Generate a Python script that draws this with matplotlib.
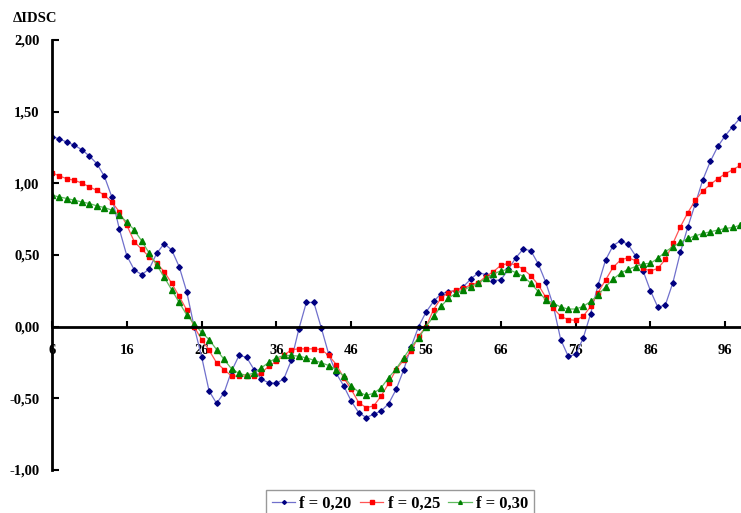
#!/usr/bin/env python3

from matplotlib import pyplot as plt

import numpy as np

plt.rcParams['font.family'] = ['Liberation Serif', 'DejaVu Serif']
plt.rcParams['font.weight'] = 'bold'

x = np.arange(6, 99)

f020 = [
    1.326, 1.310, 1.287, 1.266, 1.234, 1.190, 1.137, 1.049, 0.905, 0.681,
    0.495, 0.396, 0.363, 0.403, 0.512, 0.579, 0.535, 0.419, 0.245, 0.000,
    -0.210, -0.449, -0.535, -0.461, -0.310, -0.201, -0.213, -0.299, -0.368, -0.391,
    -0.396, -0.363, -0.234, -0.016, 0.169, 0.169, -0.009, -0.194, -0.326, -0.414,
    -0.519, -0.600, -0.634, -0.611, -0.588, -0.537, -0.438, -0.303, -0.141, 0.000,
    0.102, 0.176, 0.229, 0.245, 0.252, 0.280, 0.333, 0.377, 0.363, 0.322,
    0.326, 0.400, 0.481, 0.542, 0.530, 0.438, 0.310, 0.148, -0.090, -0.206,
    -0.194, -0.081, 0.090, 0.292, 0.465, 0.565, 0.600, 0.574, 0.495, 0.391,
    0.250, 0.134, 0.153, 0.308, 0.519, 0.697, 0.859, 1.025, 1.153, 1.257,
    1.333, 1.396, 1.456,
]
f025 = [
    1.074, 1.051, 1.032, 1.021, 1.002, 0.975, 0.951, 0.917, 0.870, 0.801,
    0.708, 0.593, 0.539, 0.488, 0.442, 0.384, 0.303, 0.211, 0.118, 0.000,
    -0.090, -0.164, -0.252, -0.299, -0.345, -0.345, -0.345, -0.345, -0.322, -0.275,
    -0.241, -0.201, -0.160, -0.155, -0.155, -0.155, -0.160, -0.201, -0.264, -0.356,
    -0.438, -0.530, -0.565, -0.553, -0.484, -0.396, -0.299, -0.234, -0.171, -0.067,
    0.000, 0.118, 0.199, 0.238, 0.257, 0.269, 0.292, 0.308, 0.350, 0.384,
    0.428, 0.442, 0.431, 0.400, 0.356, 0.292, 0.206, 0.130, 0.072, 0.049,
    0.044, 0.072, 0.141, 0.238, 0.326, 0.414, 0.465, 0.481, 0.461, 0.407,
    0.389, 0.407, 0.470, 0.581, 0.697, 0.796, 0.882, 0.947, 0.993, 1.032,
    1.067, 1.095, 1.125,
]
f030 = [
    0.917, 0.905, 0.894, 0.882, 0.870, 0.859, 0.843, 0.831, 0.813, 0.778,
    0.731, 0.674, 0.597, 0.512, 0.431, 0.345, 0.257, 0.169, 0.083, 0.020,
    -0.040, -0.090, -0.160, -0.229, -0.294, -0.326, -0.340, -0.322, -0.287, -0.248,
    -0.218, -0.201, -0.201, -0.206, -0.218, -0.234, -0.252, -0.271, -0.299, -0.345,
    -0.414, -0.456, -0.479, -0.465, -0.426, -0.356, -0.294, -0.218, -0.141, -0.079,
    0.000, 0.072, 0.141, 0.199, 0.234, 0.257, 0.280, 0.303, 0.338, 0.368,
    0.389, 0.400, 0.377, 0.350, 0.303, 0.245, 0.188, 0.164, 0.137, 0.123,
    0.123, 0.141, 0.176, 0.222, 0.278, 0.331, 0.373, 0.400, 0.419, 0.438,
    0.442, 0.477, 0.523, 0.558, 0.588, 0.616, 0.634, 0.650, 0.662, 0.674,
    0.685, 0.692, 0.708,
]

labels = ['f = 0,20', 'f = 0,25', 'f = 0,30']
x_ticks = [6, 16, 26, 36, 46, 56, 66, 76, 86, 96]
y_ticks = [-1.0, -0.5, 0.0, 0.5, 1.0, 1.5, 2.0]

fig = plt.figure(figsize=(7.41, 5.13), dpi=100)
ax = fig.add_axes([52 / 741, 1 - 470 / 513, 1 - 52 / 741, (470 - 40) / 513])

ax.plot(x, f020, color='#7070cc', linewidth=0.9, marker='D', markersize=2.8,
        markerfacecolor='#000080', markeredgecolor='#000080', label=labels[0])
ax.plot(x, f025, color='#ff5555', linewidth=0.9, marker='s', markersize=3.5,
        markerfacecolor='#ff0000', markeredgecolor='#ff0000', label=labels[1])
ax.plot(x, f030, color='#60bb60', linewidth=0.9, marker='^', markersize=3.8,
        markerfacecolor='#008000', markeredgecolor='#008000', label=labels[2])

ax.set_xlim(6, 98.1)
ax.set_ylim(-1, 2)

for side in ['top', 'right']:
    ax.spines[side].set_visible(False)
ax.spines['left'].set_linewidth(2)
ax.spines['bottom'].set_position(('data', 0))
ax.spines['bottom'].set_linewidth(2)

ax.set_xticks(x_ticks)
ax.set_yticks(y_ticks)
ax.set_yticklabels(['{:.2f}'.format(v).replace('.', ',') for v in y_ticks])
ax.tick_params(axis='x', direction='in', length=4, width=1.5, pad=12.5,
               labelsize=10.5)
ax.tick_params(axis='y', direction='in', length=5, width=1.5, pad=9,
               labelsize=10.5)

fig.text(13 / 741, 1 - 18 / 513, '\u0394IDSC', fontsize=10.5,
         fontweight='bold', ha='left', va='center')

leg = fig.legend(loc='upper center', bbox_to_anchor=(400 / 741, 1 - 490 / 513),
                 ncol=3, frameon=True, fancybox=False, fontsize=12,
                 handlelength=1.4, handletextpad=0.25, columnspacing=0.5,
                 borderpad=0.35, borderaxespad=0, markerscale=0.7)
leg.get_frame().set_edgecolor('#808080')
leg.get_frame().set_linewidth(1)

plt.savefig('out.png', dpi=100)
